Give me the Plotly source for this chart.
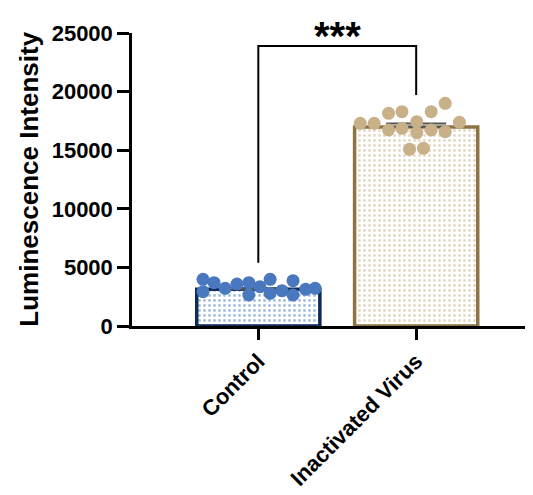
import plotly.graph_objects as go

# ---- data ----
categories = ["Control", "Inactivated Virus"]
bar_means = [3130, 16980]
bar_sem = [120, 300]
control_values = [3985, 2927, 3695, 3217, 3584, 3695, 2645, 3353, 3985, 2790, 3012, 3865, 2645, 3131, 3217]
virus_values = [17295, 17295, 18148, 16724, 18285, 16869, 17432, 16493, 15077, 15162, 18285, 16724, 19002, 16578, 17380]
y_ticks = [0, 5000, 10000, 15000, 20000, 25000]
significance = "***"

# ---- positions (swarm offsets, bracket levels) ----
control_offsets = [-0.35, -0.35, -0.28, -0.21, -0.135, -0.06, -0.06, 0.01, 0.075, 0.075, 0.15, 0.22, 0.22, 0.30, 0.36]
virus_offsets = [-0.354, -0.266, -0.175, -0.175, -0.09, -0.09, 0.004, 0.004, -0.042, 0.046, 0.095, 0.095, 0.184, 0.184, 0.274]
bracket_top = 23900
bracket_left_bottom = 5400
bracket_right_bottom = 19700

FONT = "Arial, Liberation Sans, sans-serif"
outline_colors = ["#0e2a57", "#8c7447"]
pattern_colors = ["#4f7fc4", "#c9b38c"]
dot_colors = ["#4a78bf", "#c8b089"]

fig = go.Figure()

fig.add_trace(go.Bar(
    x=[0, 1], y=bar_means, width=0.78,
    marker=dict(
        color="white",
        line=dict(color=outline_colors, width=3.5),
        pattern=dict(shape=".", fgcolor=pattern_colors, bgcolor="white", size=5, solidity=0.28),
    ),
    error_y=dict(type="data", array=bar_sem, arrayminus=[0, 0], symmetric=False,
                 color="#555555", thickness=2, width=30),
    showlegend=False, cliponaxis=False,
))

for i, (vals, offs) in enumerate([(control_values, control_offsets), (virus_values, virus_offsets)]):
    fig.add_trace(go.Scatter(
        x=[i + o for o in offs], y=vals, mode="markers",
        marker=dict(size=13, color=dot_colors[i], line=dict(width=0)),
        showlegend=False, cliponaxis=False,
    ))

# significance bracket
fig.add_trace(go.Scatter(
    x=[0, 0, 1, 1],
    y=[bracket_left_bottom, bracket_top, bracket_top, bracket_right_bottom],
    mode="lines", line=dict(color="black", width=2),
    showlegend=False, cliponaxis=False, hoverinfo="skip",
))
fig.add_annotation(x=0.5, y=0.99, xref="x", yref="paper", text=f"<b>{significance}</b>",
                   showarrow=False, yanchor="middle",
                   font=dict(family=FONT, size=40, color="black"))

fig.add_annotation(xref="paper", yref="paper", x=-0.259, y=0.5, text="<b>Luminescence Intensity</b>",
                   textangle=-90, showarrow=False, xanchor="center", yanchor="middle",
                   font=dict(family=FONT, size=26, color="black"))

fig.update_layout(
    width=525, height=487,
    margin=dict(l=124, r=0, t=25, b=169, pad=0, autoexpand=False),
    plot_bgcolor="white", paper_bgcolor="white",
    xaxis=dict(
        range=[-0.8, 1.74], tickmode="array", tickvals=[0, 1], ticktext=categories,
        tickangle=-45, ticks="outside", ticklen=11, tickwidth=2.5, tickcolor="black",
        showline=True, linecolor="black", linewidth=2.5, showgrid=False, zeroline=False,
        automargin=False,
        tickfont=dict(family=FONT, size=22, color="black", weight=700),
    ),
    yaxis=dict(
        range=[0, 25000], tickmode="array", tickvals=y_ticks, ticktext=[str(v) for v in y_ticks],
        ticks="outside", ticklen=12, tickwidth=2.5, tickcolor="black",
        showline=True, linecolor="black", linewidth=2.5, showgrid=False, zeroline=False,
        automargin=False,
        tickfont=dict(family=FONT, size=22, color="black", weight=700),
    ),
)

fig.write_html("out.html")
